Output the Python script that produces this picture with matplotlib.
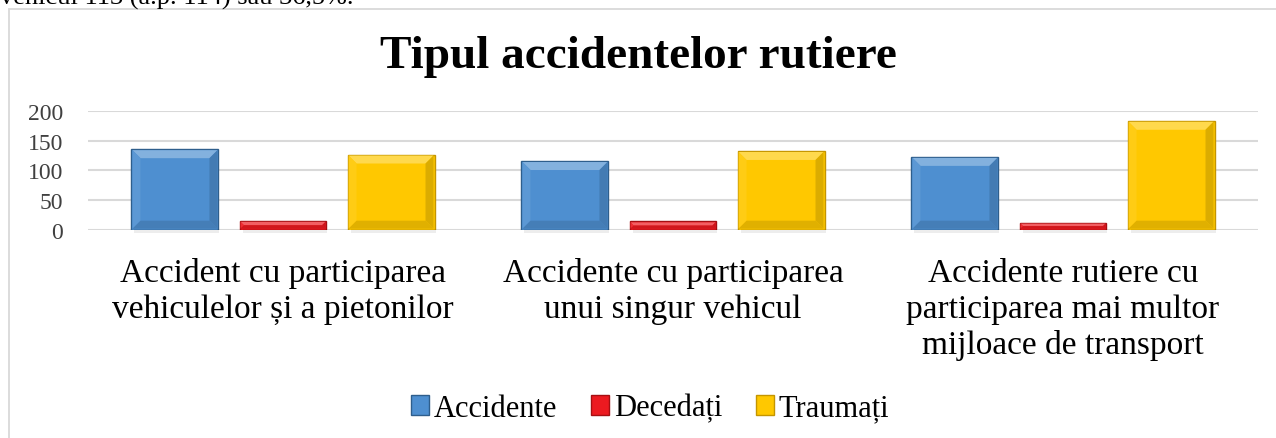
import numpy as np
import matplotlib.pyplot as plt
from matplotlib.patches import Rectangle, Polygon
from matplotlib.colors import to_rgb

categories = ['Accident cu participarea\nvehiculelor și a pietonilor',
              'Accidente cu participarea\nunui singur vehicul',
              'Accidente rutiere cu\nparticiparea mai multor\nmijloace de transport']
series = ['Accidente', 'Decedați', 'Traumați']
accidente = [136, 116, 123]
decedati = [15, 14, 12]
traumati = [127, 133, 184]
yticks = [0, 50, 100, 150, 200]

values = [accidente, decedati, traumati]
colors = ['#4E8FD0', '#EC1A20', '#FFC800']
edges = ['#2E5E8C', '#A50F12', '#C49500']

plt.rcParams['font.family'] = ['Liberation Serif', 'DejaVu Serif']

W, H = 1276, 439
fig = plt.figure(figsize=(W / 100, H / 100), dpi=100)
ax = fig.add_axes([88 / W, 1 - 230.7 / H, 1170 / W, 118.4 / H])

x = np.arange(len(categories))
step = 0.277
bw = 0.223
bars = []
for i, (name, vals) in enumerate(zip(series, values)):
    b = ax.bar(x + (i - 1) * step, vals, bw, color=colors[i], edgecolor=edges[i],
               linewidth=1.0, label=name, zorder=3)
    bars.append(b)

ax.set_xlim(-0.5, 2.5)
ax.set_ylim(0, 200)
ax.set_yticks(yticks)
ax.tick_params(axis='y', length=0, pad=18, labelsize=17, labelcolor='#404040')
ax.set_xticks(x)
ax.set_xticklabels(categories, fontsize=24, linespacing=1.22)
ax.tick_params(axis='x', length=0, pad=20)
ax.grid(axis='y', color='#D9D9D9', linewidth=1.5, zorder=0)
for s in ax.spines.values():
    s.set_visible(False)


def shade(c, f):
    r = np.array(to_rgb(c))
    if f > 0:
        return tuple(r + (1 - r) * f)
    return tuple(r * (1 + f))


# bevel effect drawn from each bar's own geometry
fig.canvas.draw()
for i, b in enumerate(bars):
    for p in b.patches:
        bb = p.get_window_extent()
        x0, y0, x1, y1 = bb.x0 + 1, bb.y0 + 1, bb.x1 - 1, bb.y1 - 1
        d = min(8, (y1 - y0) / 2)
        top = [(x0, y1), (x1, y1), (x1 - d, y1 - d), (x0 + d, y1 - d)]
        bot = [(x0, y0), (x1, y0), (x1 - d, y0 + d), (x0 + d, y0 + d)]
        lef = [(x0, y0), (x0, y1), (x0 + d, y1 - d), (x0 + d, y0 + d)]
        rig = [(x1, y0), (x1, y1), (x1 - d, y1 - d), (x1 - d, y0 + d)]
        for poly, f in [(top, 0.3), (lef, 0.08), (rig, -0.14), (bot, -0.12)]:
            fig.add_artist(Polygon(poly, closed=True, transform=None,
                                   facecolor=shade(colors[i], f), edgecolor='none', zorder=4))
        fig.add_artist(Rectangle((x0 + 2, y0 - 4), x1 - x0, 4, transform=None,
                                 facecolor='#000000', alpha=0.07, edgecolor='none', zorder=2))

fig.text(0.5, 1 - 57 / H, 'Tipul accidentelor rutiere', ha='center', va='center',
         fontsize=34, fontweight='bold', color='black')

fig.text(0.0, 1 - 5 / H, 'vehicul 113 (a.p. 114) sau 36,5%.', ha='left', va='baseline',
         fontsize=19, color='black')

fig.add_artist(Rectangle((9 / W, -0.1), 1.2, 1 - 10 / H + 0.1, transform=fig.transFigure,
                         fill=False, edgecolor='#D9D9D9', linewidth=1.3))

fig.legend(loc='center', bbox_to_anchor=(650 / W, 1 - 409 / H), ncol=3, frameon=False,
           fontsize=22, handlelength=0.6, handleheight=0.6, handletextpad=0.15,
           columnspacing=1.1)

fig.savefig('out.png', dpi=100)
